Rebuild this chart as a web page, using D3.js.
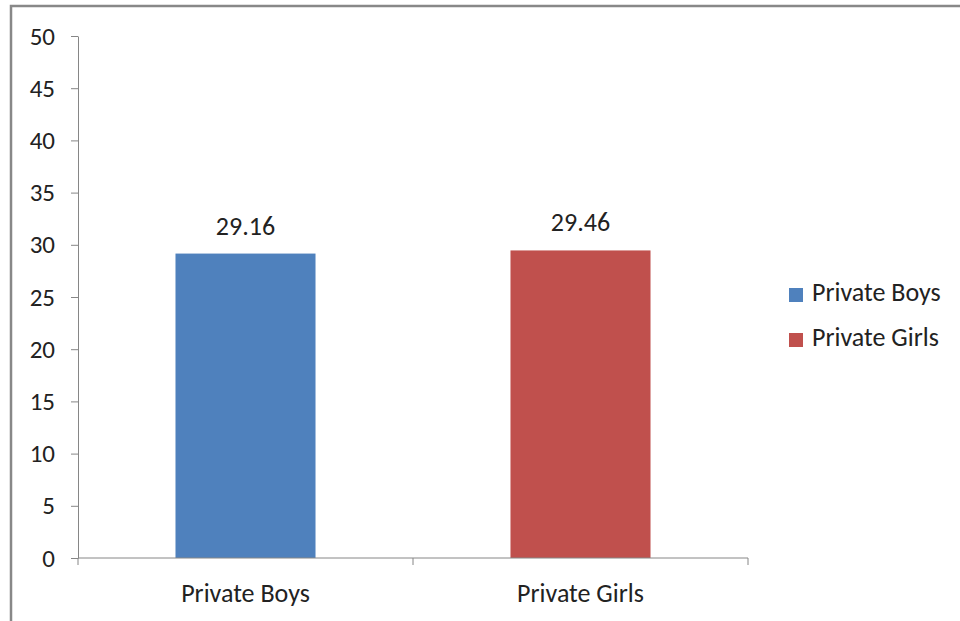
<!DOCTYPE html>
<html>
<head>
<meta charset="utf-8">
<script src="https://cdn.jsdelivr.net/npm/d3@7"></script>
<style>
  body { margin: 0; background: #fff; }
  svg text { font-family: Calibri, Carlito, Lato, sans-serif; fill: #222; }
</style>
</head>
<body>
<div id="graph"></div>
<script>
var categories = ["Private Boys", "Private Girls"];
var values     = [29.16, 29.46];
var colors     = ["#4F81BD", "#C0504D"];
var yTicks     = [0, 5, 10, 15, 20, 25, 30, 35, 40, 45, 50];

var true_width  = 960,
    true_height = 621,
    plot = {left: 78, right: 748, top: 36, bottom: 558};

var svg = d3.select("#graph").append("svg")
    .attr("width", true_width)
    .attr("height", true_height);

// outer chart frame (only top and left edges fall inside the window)
svg.append("path")
    .attr("d", "M11," + true_height + "V6H" + true_width)
    .attr("fill", "none")
    .attr("stroke", "#888")
    .attr("stroke-width", 2.5);

var x = d3.scaleBand()
    .range([plot.left, plot.right])
    .domain(categories)
    .paddingInner(0)
    .paddingOuter(0);

var y = d3.scaleLinear()
    .range([plot.bottom, plot.top])
    .domain([0, 50]);

var barWidth = x.bandwidth() * 0.418;

svg.selectAll("rect.bar")
    .data(values)
    .enter().append("rect")
    .attr("class", "bar")
    .attr("x", function(d, i) { return x(categories[i]) + (x.bandwidth() - barWidth) / 2; })
    .attr("width", barWidth)
    .attr("y", function(d) { return y(d); })
    .attr("height", function(d) { return y(0) - y(d); })
    .attr("fill", function(d, i) { return colors[i]; });

// value labels over bars
svg.selectAll("text.val")
    .data(values)
    .enter().append("text")
    .attr("class", "val")
    .attr("x", function(d, i) { return x(categories[i]) + x.bandwidth() / 2; })
    .attr("y", function(d) { return y(d) - 19; })
    .attr("text-anchor", "middle")
    .attr("font-size", 26)
    .text(function(d) { return d.toFixed(2); });

// y axis
var yAxis = svg.append("g")
    .attr("transform", "translate(" + plot.left + ",0)")
    .call(d3.axisLeft(y).tickValues(yTicks).tickSize(7).tickPadding(16).tickSizeOuter(0));
yAxis.selectAll("line, path").attr("stroke", "#868686");
yAxis.selectAll("text").attr("font-size", 25).attr("fill", "#222").attr("font-family", null);

// x axis: ticks sit on category boundaries
var bounds = categories.map(function(c) { return x(c); }).concat([plot.right]);
var xAxis = svg.append("g").attr("transform", "translate(0," + plot.bottom + ")");
xAxis.append("line")
    .attr("x1", plot.left).attr("x2", plot.right)
    .attr("stroke", "#868686");
xAxis.selectAll("line.tick")
    .data(bounds)
    .enter().append("line")
    .attr("class", "tick")
    .attr("x1", function(d) { return d; }).attr("x2", function(d) { return d; })
    .attr("y1", 0).attr("y2", 7)
    .attr("stroke", "#868686");
xAxis.selectAll("text")
    .data(categories)
    .enter().append("text")
    .attr("x", function(c) { return x(c) + x.bandwidth() / 2; })
    .attr("y", 44)
    .attr("text-anchor", "middle")
    .attr("font-size", 26)
    .text(function(c) { return c; });

// legend
var legend = svg.selectAll("g.legend")
    .data(categories)
    .enter().append("g")
    .attr("class", "legend")
    .attr("transform", function(d, i) { return "translate(789," + (288 + i * 45) + ")"; });
legend.append("rect")
    .attr("width", 14).attr("height", 14)
    .attr("fill", function(d, i) { return colors[i]; });
legend.append("text")
    .attr("x", 23).attr("y", 13)
    .attr("font-size", 26)
    .text(function(d) { return d; });
</script>
</body>
</html>
